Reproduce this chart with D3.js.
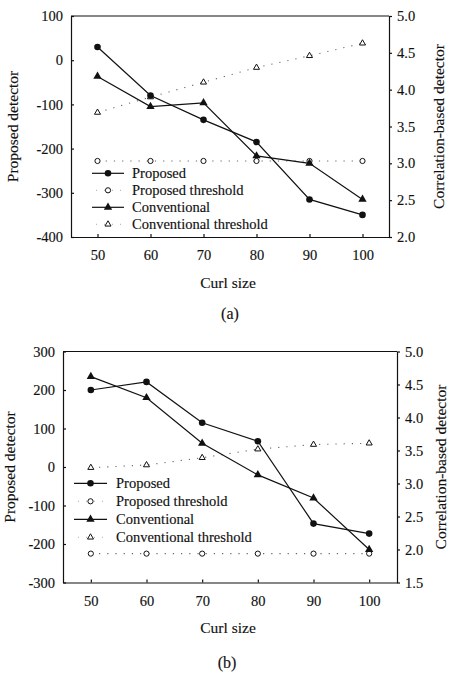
<!DOCTYPE html>
<html>
<head>
<meta charset="utf-8">
<script src="https://cdn.jsdelivr.net/npm/d3@7"></script>
<style>
  body { margin: 0; background: #fff; }
  svg { display: block; }
  text { font-family: "Liberation Serif", "DejaVu Serif", serif; stroke: #111; stroke-width: 0.15px; }
  .axis path, .axis line { stroke: #111; stroke-width: 1.2; }
</style>
</head>
<body>
<svg id="chart" width="449" height="673"></svg>
<script>
// Curl sizes (x axis)
var curlSizes = [50, 60, 70, 80, 90, 100];

// Panel (a) values
var proposedA = [30, -80, -135, -185, -315, -350];
var proposedThrA = [-228, -228, -228, -228, -228, -228];
var conventionalA = [4.18, 3.77, 3.82, 3.10, 3.00, 2.51];
var conventionalThrA = [3.69, 3.90, 4.10, 4.30, 4.46, 4.63];

// Panel (b) values
var proposedB = [200, 221, 115, 67, -147, -173];
var proposedThrB = [-225, -225, -225, -225, -225, -225];
var conventionalB = [4.62, 4.30, 3.61, 3.13, 2.78, 2.00];
var conventionalThrB = [3.24, 3.28, 3.39, 3.52, 3.59, 3.61];

// Tick labels
var leftTicksA = [-400, -300, -200, -100, 0, 100];
var rightTicksA = [2.0, 2.5, 3.0, 3.5, 4.0, 4.5, 5.0];
var leftTicksB = [-300, -200, -100, 0, 100, 200, 300];
var rightTicksB = [1.5, 2.0, 2.5, 3.0, 3.5, 4.0, 4.5, 5.0];

var legendNames = ["Proposed", "Proposed threshold", "Conventional", "Conventional threshold"];

var svg = d3.select('#chart');
var serif = "Liberation Serif, DejaVu Serif, serif";

function drawPanel(p) {
  var x = d3.scaleLinear().domain([45, 105]).range([p.left, p.right]);
  var yL = d3.scaleLinear().domain(d3.extent(p.leftTicks)).range([p.bottom, p.top]);
  var yR = d3.scaleLinear().domain(d3.extent(p.rightTicks)).range([p.bottom, p.top]);
  var g = svg.append("g");

  // top of the frame
  g.append("line").attr("x1", p.left).attr("x2", p.right).attr("y1", p.top).attr("y2", p.top)
   .attr("stroke", "#111").attr("stroke-width", 1.2);

  var axB = g.append("g").attr("class", "axis")
   .attr("transform", "translate(0," + p.bottom + ")")
   .call(d3.axisBottom(x).tickValues(curlSizes).tickSizeInner(-3).tickSizeOuter(0).tickPadding(13));

  var axL = g.append("g").attr("class", "axis")
   .attr("transform", "translate(" + p.left + ",0)")
   .call(d3.axisLeft(yL).tickValues(p.leftTicks).tickFormat(function(d) { return String(d); })
     .tickSizeInner(-3).tickSizeOuter(0).tickPadding(8));

  var axR = g.append("g").attr("class", "axis")
   .attr("transform", "translate(" + p.right + ",0)")
   .call(d3.axisRight(yR).tickValues(p.rightTicks).tickFormat(d3.format(".1f"))
     .tickSizeInner(3).tickSizeOuter(0).tickPadding(5));

  [axB, axL, axR].forEach(function(a) {
    a.attr("font-family", serif).attr("font-size", 14.5);
    a.selectAll("text").attr("fill", "#111");
  });

  // axis titles
  g.append("text").attr("transform", "translate(" + p.leftTitleX + "," + ((p.top + p.bottom) / 2) + ") rotate(-90)")
   .attr("text-anchor", "middle").attr("dominant-baseline", "central")
   .style("font-size", "15.5px").attr("fill", "#111").text("Proposed detector");
  g.append("text").attr("transform", "translate(" + p.rightTitleX + "," + ((p.top + p.bottom) / 2) + ") rotate(-90)")
   .attr("text-anchor", "middle").attr("dominant-baseline", "central")
   .style("font-size", "15.5px").attr("fill", "#111").text("Correlation-based detector");
  g.append("text").attr("x", p.xTitleX).attr("y", p.xTitleY).attr("text-anchor", "middle")
   .attr("dominant-baseline", "central").style("font-size", "15.5px").attr("fill", "#111").text("Curl size");
  g.append("text").attr("x", p.capX).attr("y", p.capY).attr("text-anchor", "middle")
   .attr("dominant-baseline", "central").style("font-size", "16px").attr("fill", "#111").text(p.caption);

  var solid = d3.line().x(function(d) { return x(d[0]); }).y(function(d) { return d[1]; });

  var ptsProp = curlSizes.map(function(c, i) { return [c, yL(p.proposed[i])]; });
  var ptsPropThr = curlSizes.map(function(c, i) { return [c, yL(p.proposedThr[i])]; });
  var ptsConv = curlSizes.map(function(c, i) { return [c, yR(p.conventional[i])]; });
  var ptsConvThr = curlSizes.map(function(c, i) { return [c, yR(p.conventionalThr[i])]; });

  // dotted threshold lines
  [ptsPropThr, ptsConvThr].forEach(function(pts) {
    g.append("path").attr("d", solid(pts)).attr("fill", "none")
     .attr("stroke", "#666").attr("stroke-width", 1.1).attr("stroke-dasharray", "1.2,7");
  });
  // solid lines
  [ptsProp, ptsConv].forEach(function(pts) {
    g.append("path").attr("d", solid(pts)).attr("fill", "none")
     .attr("stroke", "#111").attr("stroke-width", 1.2);
  });

  var triFill = d3.symbol().type(d3.symbolTriangle).size(30);
  var triOpen = d3.symbol().type(d3.symbolTriangle).size(16);

  function drawMarker(gg, cx, cy, kind) {
    if (kind == "circle") {
      gg.append("circle").attr("cx", cx).attr("cy", cy).attr("r", 3.3).attr("fill", "#111");
    } else if (kind == "circleOpen") {
      gg.append("circle").attr("cx", cx).attr("cy", cy).attr("r", 2.6).attr("fill", "#fff")
        .attr("stroke", "#111").attr("stroke-width", 1);
    } else if (kind == "tri") {
      gg.append("path").attr("d", triFill()).attr("transform", "translate(" + cx + "," + cy + ")")
        .attr("fill", "#111");
    } else {
      gg.append("path").attr("d", triOpen()).attr("transform", "translate(" + cx + "," + cy + ")")
        .attr("fill", "#fff").attr("stroke", "#111").attr("stroke-width", 1);
    }
  }

  function markers(pts, kind) {
    pts.forEach(function(d) { drawMarker(g, x(d[0]), d[1], kind); });
  }
  markers(ptsPropThr, "circleOpen");
  markers(ptsConvThr, "triOpen");
  markers(ptsProp, "circle");
  markers(ptsConv, "tri");

  // legend
  var kinds = ["circle", "circleOpen", "tri", "triOpen"];
  legendNames.forEach(function(name, i) {
    var ly = p.legY + i * p.legStep;
    var mid = (p.legX1 + p.legX2) / 2;
    if (kinds[i] == "circle" || kinds[i] == "tri") {
      g.append("line").attr("x1", p.legX1).attr("x2", p.legX2).attr("y1", ly).attr("y2", ly)
       .attr("stroke", "#111").attr("stroke-width", 1.2);
    } else {
      g.append("line").attr("x1", p.legX1 + 4).attr("x2", p.legX2).attr("y1", ly).attr("y2", ly)
       .attr("stroke", "#aaa").attr("stroke-width", 1).attr("stroke-dasharray", "1,7");
    }
    drawMarker(g, mid, ly, kinds[i]);
    g.append("text").attr("x", p.legText).attr("y", ly).attr("dominant-baseline", "central")
     .style("font-size", "14.5px").attr("fill", "#111").text(name);
  });
}

drawPanel({
  left: 71, right: 389, top: 16, bottom: 237,
  leftTicks: leftTicksA, rightTicks: rightTicksA,
  proposed: proposedA, proposedThr: proposedThrA,
  conventional: conventionalA, conventionalThr: conventionalThrA,
  leftTitleX: 12, rightTitleX: 438, xTitleX: 228, xTitleY: 282,
  capX: 230, capY: 313, caption: "(a)",
  legX1: 92, legX2: 124, legText: 132, legY: 173.3, legStep: 17
});

drawPanel({
  left: 63, right: 397, top: 351.5, bottom: 582.5,
  leftTicks: leftTicksB, rightTicks: rightTicksB,
  proposed: proposedB, proposedThr: proposedThrB,
  conventional: conventionalB, conventionalThr: conventionalThrB,
  leftTitleX: 9, rightTitleX: 440, xTitleX: 228, xTitleY: 627,
  capX: 227, capY: 662, caption: "(b)",
  legX1: 74, legX2: 107, legText: 116, legY: 483.3, legStep: 18
});
</script>
</body>
</html>
